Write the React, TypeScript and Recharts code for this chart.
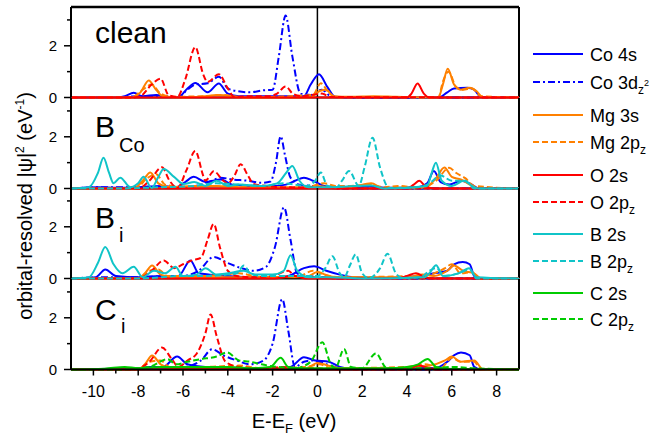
import React from "react";
import { LineChart, Line, XAxis, YAxis, ReferenceLine } from "recharts";

type Pt = [number, number];

// x ticks (eV) and y ticks (per panel)
const xTicks = [-10, -9, -8, -7, -6, -5, -4, -3, -2, -1, 0, 1, 2, 3, 4, 5, 6, 7, 8];
const yTicks = [0, 1, 2, 3];

// ---- clean ----
const cleanCo4s: Pt[] = [[-11, 0], [-9, 0], [-8.6, 0.05], [-8.2, 0.18], [-7.8, 0.05], [-7.2, 0.1], [-6.6, 0.02], [-6.2, 0.02], [-5.8, 0.35], [-5.45, 0.56], [-4.9, 0.2], [-4.4, 0.54], [-4.0, 0.15], [-3.5, 0.05], [-2.5, 0.05], [-1.5, 0.05], [-0.6, 0.05], [-0.3, 0.5], [0.07, 0.9], [0.45, 0.4], [0.8, 0.02], [2, 0], [5.4, 0], [5.8, 0.2], [6.1, 0.35], [6.7, 0.38], [7.0, 0.3], [7.3, 0.02], [9, 0]];
const cleanCo3d: Pt[] = [[-11, 0], [-9, 0], [-8, 0.05], [-7, 0.05], [-6.2, 0.02], [-5.8, 0.3], [-5.45, 0.5], [-4.9, 0.55], [-4.4, 0.8], [-4.0, 0.35], [-3.6, 0.25], [-3.0, 0.2], [-2.4, 0.28], [-2.0, 0.3], [-1.72, 1.6], [-1.42, 3.17], [-1.12, 1.6], [-0.75, 0.15], [-0.3, 0.1], [0.2, 0.3], [0.6, 0.05], [1.5, 0], [9, 0]];
const cleanMg3s: Pt[] = [[-11, 0], [-8.3, 0], [-7.9, 0.2], [-7.53, 0.66], [-7.2, 0.3], [-6.9, 0.05], [-6, 0], [-5, 0.05], [-4.5, 0.1], [-3, 0], [-0.3, 0], [0.1, 0.25], [0.4, 0.3], [0.7, 0.05], [1.5, 0.03], [2.5, 0.05], [3.5, 0.03], [5.4, 0], [5.6, 0.5], [5.82, 1.11], [6.1, 0.5], [6.4, 0.3], [6.8, 0.38], [7.1, 0.25], [7.4, 0], [9, 0]];
const cleanMg2p: Pt[] = [[-11, 0], [-8.3, 0], [-7.8, 0.3], [-7.4, 0.5], [-7, 0.15], [-6.5, 0.03], [-5, 0.05], [-4.2, 0.1], [-3.5, 0], [-0.2, 0.1], [0.15, 0.55], [0.5, 0.2], [0.9, 0], [5.4, 0], [5.6, 0.6], [5.85, 1.0], [6.2, 0.4], [6.5, 0.3], [6.9, 0.35], [7.3, 0.05], [9, 0]];
const cleanO2s: Pt[] = [[-11, 0], [4.0, 0], [4.2, 0.15], [4.47, 0.54], [4.75, 0.15], [5.0, 0], [9, 0]];
const cleanO2p: Pt[] = [[-11, 0], [-8.2, 0], [-7.9, 0.05], [-7.4, 0.5], [-7.0, 0.73], [-6.65, 0.1], [-6.25, 0.02], [-5.9, 0.7], [-5.45, 1.95], [-5.1, 0.9], [-4.9, 0.6], [-4.4, 0.9], [-4.0, 0.35], [-3.7, 0.02], [-3, 0.05], [-2.2, 0.05], [-1.8, 0.15], [-1.42, 0.43], [-1.1, 0.15], [-0.7, 0.05], [0.2, 0.15], [0.6, 0.02], [9, 0]];

// ---- B_Co ----
const bcoCo4s: Pt[] = [[-11, 0], [-9.8, 0.05], [-9, 0.03], [-8, 0.05], [-7, 0.1], [-6.3, 0.05], [-5.9, 0.25], [-5.52, 0.45], [-5.0, 0.25], [-4.3, 0.35], [-3.8, 0.15], [-3, 0.1], [-2, 0.1], [-1.4, 0.15], [-1.0, 0.3], [-0.6, 0.42], [-0.2, 0.3], [0.3, 0.1], [1, 0.05], [2.4, 0.1], [3, 0.03], [4.5, 0.05], [4.9, 0.2], [5.2, 0.68], [5.5, 0.25], [5.9, 0.15], [6.4, 0.3], [6.9, 0.15], [7.2, 0], [9, 0]];
const bcoCo3d: Pt[] = [[-11, 0], [-9.5, 0.05], [-8, 0.05], [-7, 0.05], [-6, 0.05], [-5.2, 0.15], [-4.7, 0.3], [-4.33, 0.42], [-3.8, 0.35], [-3.1, 0.3], [-2.5, 0.22], [-2.09, 0.27], [-1.85, 1.0], [-1.64, 2.02], [-1.45, 1.3], [-1.2, 0.42], [-0.8, 0.15], [-0.3, 0.1], [0.3, 0.05], [1, 0], [9, 0]];
const bcoMg3s: Pt[] = [[-11, 0], [-8.2, 0], [-7.8, 0.3], [-7.46, 0.62], [-7.1, 0.2], [-6.6, 0.05], [-5.5, 0.1], [-4.5, 0.1], [-3.5, 0.05], [-0.5, 0.02], [0, 0.1], [0.5, 0.05], [1.5, 0.05], [2.4, 0.2], [2.9, 0.02], [4.8, 0.05], [5.3, 0.4], [5.67, 0.81], [6.0, 0.45], [6.4, 0.35], [6.8, 0.15], [7.2, 0], [9, 0]];
const bcoMg2p: Pt[] = [[-11, 0], [-8.1, 0], [-7.6, 0.4], [-7.2, 0.55], [-6.8, 0.15], [-6, 0.05], [-4.8, 0.1], [-3.5, 0.05], [-0.5, 0.05], [0.3, 0.2], [0.8, 0.1], [1.5, 0.1], [2.3, 0.15], [3, 0.05], [3.6, 0.1], [4.5, 0.02], [5.3, 0.3], [5.88, 0.8], [6.2, 0.6], [6.6, 0.4], [7.0, 0.1], [9, 0]];
const bcoO2s: Pt[] = [[-11, 0], [4.0, 0], [4.3, 0.15], [4.55, 0.3], [4.8, 0.1], [5.2, 0], [9, 0]];
const bcoO2p: Pt[] = [[-11, 0], [-8, 0], [-7.5, 0.3], [-6.94, 0.82], [-6.6, 0.3], [-6.25, 0.02], [-5.85, 0.7], [-5.45, 1.45], [-5.1, 0.5], [-5.0, 0.3], [-4.63, 0.67], [-4.2, 0.3], [-4.0, 0.2], [-3.7, 0.5], [-3.43, 0.94], [-3.1, 0.5], [-2.85, 0.18], [-2.3, 0.1], [-1.7, 0.05], [-1.0, 0.05], [0, 0.05], [1, 0], [9, 0]];
const bcoB2s: Pt[] = [[-11, 0], [-10.2, 0.05], [-9.8, 0.6], [-9.55, 1.19], [-9.3, 0.6], [-9.1, 0.2], [-8.8, 0.42], [-8.35, 0.05], [-8.0, 0.2], [-7.76, 0.45], [-7.4, 0.02], [-7.1, 0.45], [-6.86, 0.75], [-6.4, 0.45], [-5.97, 0.17], [-5.5, 0.25], [-5.0, 0.1], [-4.5, 0.3], [-4, 0.1], [-3.5, 0.15], [-2.5, 0.1], [-1.8, 0.2], [-1.4, 0.6], [-1.12, 0.87], [-0.8, 0.3], [-0.4, 0.05], [0.5, 0.05], [2.4, 0.12], [3, 0], [4.9, 0.1], [5.1, 0.6], [5.29, 1.0], [5.55, 0.3], [6, 0.1], [6.55, 0.3], [6.9, 0.1], [7.2, 0], [9, 0]];
const bcoB2p: Pt[] = [[-11, 0], [-9, 0], [-7, 0.05], [-5.5, 0.1], [-4.5, 0.2], [-3.5, 0.15], [-2.5, 0.1], [-1.5, 0.2], [-0.5, 0.1], [-0.1, 0.3], [0.15, 0.62], [0.45, 0.1], [0.85, 0.05], [1.1, 0.3], [1.41, 0.68], [1.85, 0.1], [2.1, 0.8], [2.46, 1.96], [2.8, 0.8], [3.2, 0.02], [4.5, 0.05], [5.0, 0.2], [5.5, 0.5], [6.0, 0.3], [6.6, 0.3], [7.0, 0], [9, 0]];

// ---- B_i ----
const biCo4s: Pt[] = [[-11, 0], [-9.9, 0.05], [-9.47, 0.35], [-9.0, 0.1], [-8, 0.05], [-7, 0.1], [-6.2, 0.1], [-5.67, 0.7], [-5.3, 0.2], [-4.8, 0.15], [-4, 0.1], [-3, 0.05], [-2, 0.05], [-1.3, 0.1], [-0.6, 0.4], [-0.15, 0.47], [0.4, 0.3], [1.0, 0.15], [1.6, 0.05], [3, 0.02], [4.5, 0.1], [5.2, 0.2], [5.8, 0.3], [6.1, 0.55], [6.49, 0.64], [6.8, 0.55], [7.0, 0.1], [7.3, 0], [9, 0]];
const biCo3d: Pt[] = [[-11, 0], [-9.5, 0.05], [-8, 0.05], [-7, 0.08], [-6, 0.1], [-5.3, 0.3], [-4.63, 0.83], [-4.0, 0.6], [-3.4, 0.4], [-2.85, 0.3], [-2.3, 0.45], [-1.9, 1.2], [-1.49, 2.75], [-1.2, 1.5], [-0.9, 0.2], [-0.5, 0.1], [0.3, 0.05], [1, 0], [9, 0]];
const biMg3s: Pt[] = [[-11, 0], [-8, 0], [-7.7, 0.2], [-7.38, 0.5], [-7.0, 0.15], [-6.4, 0.05], [-5, 0.05], [-3, 0.05], [-0.5, 0.05], [0, 0.25], [0.5, 0.1], [1, 0.05], [4, 0.05], [4.7, 0.15], [5.2, 0.1], [5.8, 0.3], [6.1, 0.5], [6.5, 0.3], [7.0, 0.2], [7.3, 0], [9, 0]];
const biMg2p: Pt[] = [[-11, 0], [-8, 0], [-7.5, 0.3], [-7.1, 0.35], [-6.7, 0.1], [-5, 0.1], [-3.5, 0.2], [-2.5, 0.05], [-0.8, 0.1], [-0.2, 0.3], [0.3, 0.15], [1, 0.05], [4.3, 0.1], [5.0, 0.15], [5.7, 0.4], [6.0, 0.55], [6.4, 0.2], [6.9, 0.25], [7.2, 0], [9, 0]];
const biO2s: Pt[] = [[-11, 0], [-2, 0], [-1.0, 0.1], [-0.5, 0], [3.5, 0], [4.0, 0.1], [4.4, 0.2], [4.8, 0.05], [5.2, 0], [9, 0]];
const biO2p: Pt[] = [[-11, 0], [-8, 0], [-7.4, 0.3], [-6.86, 0.7], [-6.4, 0.4], [-6.0, 0.55], [-5.6, 0.7], [-5.2, 0.8], [-4.9, 1.5], [-4.63, 2.11], [-4.35, 1.2], [-4.0, 0.3], [-3.6, 0.1], [-3, 0.05], [-2, 0.1], [-1.3, 0.3], [-1.0, 0.1], [0, 0.05], [1, 0], [9, 0]];
const biB2s: Pt[] = [[-11, 0], [-10.2, 0.05], [-9.8, 0.6], [-9.47, 1.22], [-9.1, 0.55], [-8.7, 0.2], [-8.2, 0.45], [-7.8, 0.05], [-7.3, 0.3], [-6.8, 0.2], [-6.34, 0.45], [-6.0, 0.1], [-5.4, 0.15], [-5, 0.4], [-4.5, 0.15], [-4, 0.2], [-3.28, 0.3], [-2.8, 0.15], [-2, 0.15], [-1.5, 0.3], [-1.2, 0.9], [-0.9, 0.3], [-0.4, 0.05], [0.5, 0.05], [2, 0], [4.8, 0.05], [5.0, 0.2], [5.3, 0.51], [5.6, 0.1], [6.3, 0.2], [6.77, 0.4], [7.1, 0.05], [9, 0]];
const biB2p: Pt[] = [[-11, 0], [-8, 0], [-6, 0.1], [-5, 0.1], [-4, 0.15], [-3.6, 0.2], [-3.28, 0.5], [-3.0, 0.2], [-2.5, 0.1], [-1.5, 0.1], [-0.5, 0.1], [0, 0.1], [0.35, 0.4], [0.67, 0.86], [1.0, 0.2], [1.2, 0.05], [1.45, 0.5], [1.71, 0.93], [2.0, 0.2], [2.3, 0.02], [2.8, 0.4], [3.13, 0.96], [3.5, 0.2], [3.8, 0.02], [4.6, 0.05], [5.0, 0.3], [5.3, 0.4], [5.7, 0.1], [6.3, 0.2], [6.8, 0.35], [7.1, 0], [9, 0]];

// ---- C_i ----
const ciCo4s: Pt[] = [[-11, 0], [-9, 0.03], [-8, 0.05], [-7.5, 0.1], [-6.9, 0.1], [-6.26, 0.5], [-5.8, 0.2], [-5, 0.1], [-4, 0.08], [-3, 0.05], [-1.8, 0.05], [-1.2, 0.1], [-0.6, 0.47], [-0.1, 0.35], [0.5, 0.3], [1.0, 0.1], [1.5, 0.03], [4, 0.05], [4.5, 0.1], [5.2, 0.05], [5.8, 0.3], [6.1, 0.55], [6.41, 0.66], [6.8, 0.55], [7.0, 0.1], [7.3, 0], [9, 0]];
const ciCo3d: Pt[] = [[-11, 0], [-9, 0.03], [-8, 0.05], [-7, 0.1], [-6, 0.1], [-5.2, 0.35], [-4.7, 0.78], [-4.2, 0.55], [-3.6, 0.35], [-3.0, 0.2], [-2.4, 0.35], [-2.0, 1.0], [-1.57, 2.72], [-1.3, 1.5], [-1.0, 0.1], [-0.6, 0.3], [-0.2, 0.35], [0.4, 0.2], [1.0, 0.05], [2, 0], [9, 0]];
const ciMg3s: Pt[] = [[-11, 0], [-8, 0], [-7.7, 0.2], [-7.38, 0.54], [-7.0, 0.2], [-6.5, 0.05], [-5, 0.05], [-3, 0.05], [-0.5, 0.05], [0, 0.25], [0.5, 0.15], [1, 0.05], [3.5, 0.05], [4.3, 0.1], [5.0, 0.15], [5.7, 0.35], [6.0, 0.5], [6.4, 0.3], [7.0, 0.35], [7.4, 0], [9, 0]];
const ciMg2p: Pt[] = [[-11, 0], [-8, 0], [-7.5, 0.3], [-7.0, 0.35], [-6.6, 0.1], [-5, 0.1], [-3.5, 0.15], [-2.5, 0.05], [-0.5, 0.1], [0.1, 0.2], [0.6, 0.05], [4, 0.1], [4.8, 0.2], [5.5, 0.05], [6.0, 0.45], [6.4, 0.3], [7.0, 0.3], [7.3, 0], [9, 0]];
const ciO2s: Pt[] = [[-11, 0], [4, 0], [4.5, 0.15], [5, 0.05], [5.4, 0], [9, 0]];
const ciO2p: Pt[] = [[-11, 0], [-8.2, 0], [-7.5, 0.3], [-6.94, 0.85], [-6.5, 0.4], [-6.2, 0.1], [-5.8, 0.35], [-5.4, 0.6], [-5.0, 1.4], [-4.77, 2.13], [-4.5, 1.3], [-4.1, 0.3], [-3.5, 0.1], [-2.5, 0.05], [-1.5, 0.1], [-1.0, 0.05], [0, 0.05], [1, 0], [9, 0]];
const ciC2s: Pt[] = [[-11, 0], [-9.5, 0.03], [-8.6, 0.1], [-8, 0.05], [-7, 0.1], [-6, 0.1], [-5, 0.1], [-4, 0.1], [-3, 0.05], [-2.1, 0.1], [-1.64, 0.45], [-1.3, 0.1], [-0.7, 0.05], [0, 0.05], [1, 0.05], [2, 0.05], [3, 0.05], [4.0, 0.1], [4.5, 0.2], [4.92, 0.41], [5.3, 0.1], [6, 0.02], [9, 0]];
const ciC2p: Pt[] = [[-11, 0], [-9, 0], [-7.5, 0.1], [-6.7, 0.4], [-6.3, 0.2], [-5.8, 0.3], [-5.2, 0.4], [-4.5, 0.5], [-4.03, 0.66], [-3.5, 0.35], [-3, 0.3], [-2.5, 0.2], [-1.8, 0.1], [-1, 0.05], [-0.3, 0.3], [0.22, 1.05], [0.6, 0.2], [0.8, 0.05], [1.19, 0.79], [1.5, 0.1], [2.0, 0.05], [2.61, 0.62], [3.1, 0.05], [3.6, 0.05], [5, 0.05], [6, 0.1], [7, 0.05], [9, 0]];

const BLUE = "#0000FF";
const ORANGE = "#FF8000";
const RED = "#FF0000";
const CYAN = "#10C4C8";
const GREEN = "#00CC00";
const DASH = "6 3";
const DASHDOT = "7 3 2 3";

const styles: Record<string, { color: string; dash?: string }> = {
  co4s: { color: BLUE },
  co3d: { color: BLUE, dash: DASHDOT },
  mg3s: { color: ORANGE },
  mg2p: { color: ORANGE, dash: DASH },
  o2s: { color: RED },
  o2p: { color: RED, dash: DASH },
  b2s: { color: CYAN },
  b2p: { color: CYAN, dash: DASH },
  c2s: { color: GREEN },
  c2p: { color: GREEN, dash: DASH },
};

type Series = { key: string; pts: Pt[] };

const panels: { name: string; series: Series[] }[] = [
  {
    name: "clean",
    series: [
      { key: "co4s", pts: cleanCo4s }, { key: "co3d", pts: cleanCo3d },
      { key: "mg3s", pts: cleanMg3s }, { key: "mg2p", pts: cleanMg2p },
      { key: "o2p", pts: cleanO2p }, { key: "o2s", pts: cleanO2s },
    ],
  },
  {
    name: "bco",
    series: [
      { key: "co4s", pts: bcoCo4s }, { key: "co3d", pts: bcoCo3d },
      { key: "mg3s", pts: bcoMg3s }, { key: "mg2p", pts: bcoMg2p },
      { key: "o2p", pts: bcoO2p }, { key: "o2s", pts: bcoO2s },
      { key: "b2p", pts: bcoB2p }, { key: "b2s", pts: bcoB2s },
    ],
  },
  {
    name: "bi",
    series: [
      { key: "co4s", pts: biCo4s }, { key: "co3d", pts: biCo3d },
      { key: "mg3s", pts: biMg3s }, { key: "mg2p", pts: biMg2p },
      { key: "o2p", pts: biO2p }, { key: "o2s", pts: biO2s },
      { key: "b2p", pts: biB2p }, { key: "b2s", pts: biB2s },
    ],
  },
  {
    name: "ci",
    series: [
      { key: "co4s", pts: ciCo4s }, { key: "co3d", pts: ciCo3d },
      { key: "mg3s", pts: ciMg3s }, { key: "mg2p", pts: ciMg2p },
      { key: "o2p", pts: ciO2p }, { key: "o2s", pts: ciO2s },
      { key: "c2p", pts: ciC2p }, { key: "c2s", pts: ciC2s },
    ],
  },
];

const legendItems = [
  { key: "co4s", label: "Co 4s", sub: "", sup: "" },
  { key: "co3d", label: "Co 3d", sub: "z", sup: "2" },
  { key: "mg3s", label: "Mg 3s", sub: "", sup: "" },
  { key: "mg2p", label: "Mg 2p", sub: "z", sup: "" },
  { key: "o2s", label: "O 2s", sub: "", sup: "" },
  { key: "o2p", label: "O 2p", sub: "z", sup: "" },
  { key: "b2s", label: "B 2s", sub: "", sup: "" },
  { key: "b2p", label: "B 2p", sub: "z", sup: "" },
  { key: "c2s", label: "C 2s", sub: "", sup: "" },
  { key: "c2p", label: "C 2p", sub: "z", sup: "" },
];
const legendY = [54, 82, 115, 142, 175, 202, 234, 261, 293, 319];

const FONT = "Arial, 'Liberation Sans', Helvetica, sans-serif";
const PANEL_TOP = 7;
const PANEL_H = 90.5;
const PAD = 10;

const YTick = (props: any) => {
  const { x, y, payload } = props;
  const major = payload.value % 2 === 0;
  return (
    <g>
      <line x1={x - (major ? 7 : 4)} x2={x} y1={y} y2={y} stroke="#000" strokeWidth={1.5} />
      {major && (
        <text x={x - 14} y={y + 5.5} textAnchor="end" fontSize={15} fontFamily={FONT} fill="#000">
          {payload.value}
        </text>
      )}
    </g>
  );
};

const XTick = (props: any) => {
  const { x, y, payload } = props;
  const major = payload.value % 2 === 0;
  return (
    <g>
      <line x1={x} x2={x} y1={y} y2={y + (major ? 6 : 4)} stroke="#000" strokeWidth={1.5} />
      {major && (
        <text x={x} y={y + 27} textAnchor="middle" fontSize={16} fontFamily={FONT} fill="#000">
          {payload.value}
        </text>
      )}
    </g>
  );
};

function Panel({ series, index, last }: { series: Series[]; index: number; last: boolean }) {
  const top = PANEL_TOP + index * PANEL_H - PAD;
  const height = PANEL_H + 2 * PAD + (last ? 30 : 0);
  return (
    <div style={{ position: "absolute", left: 0, top }}>
      <LineChart width={530} height={height} margin={{ top: PAD, right: 11, bottom: PAD, left: 0 }}>
        <XAxis
          type="number"
          dataKey="x"
          domain={[-11, 9]}
          ticks={xTicks}
          hide={!last}
          height={30}
          tickSize={0}
          tickMargin={0}
          tickLine={false}
          tick={<XTick />}
          axisLine={{ stroke: "#000", strokeWidth: 2 }}
          interval={0}
        />
        <YAxis
          type="number"
          domain={[0, 3.5]}
          ticks={yTicks}
          width={71}
          tickSize={0}
          tickMargin={0}
          tickLine={false}
          tick={<YTick />}
          axisLine={{ stroke: "#000", strokeWidth: 2 }}
          interval={0}
        />
        <ReferenceLine y={0} stroke="#000" strokeWidth={2} />
        {index === 0 && <ReferenceLine y={3.5} stroke="#000" strokeWidth={2.5} />}
        <ReferenceLine x={0} stroke="#000" strokeWidth={1.5} />
        <ReferenceLine x={9} stroke="#000" strokeWidth={2} />
        {series.map((s) => (
          <Line
            key={s.key}
            data={s.pts.map(([x, y]) => ({ x, y }))}
            dataKey="y"
            type="monotone"
            stroke={styles[s.key].color}
            strokeDasharray={styles[s.key].dash}
            strokeWidth={2}
            dot={false}
            activeDot={false}
            isAnimationActive={false}
          />
        ))}
      </LineChart>
    </div>
  );
}

export default function App() {
  return (
    <div style={{ position: "absolute", left: 0, top: 0, width: 658, height: 441, background: "#fff", fontFamily: FONT }}>
      {panels.map((p, i) => (
        <Panel key={p.name} series={p.series} index={i} last={i === panels.length - 1} />
      ))}
      <svg width={658} height={441} style={{ position: "absolute", left: 0, top: 0, pointerEvents: "none" }} fontFamily={FONT}>
        {/* panel labels */}
        <text x={95} y={43} fontSize={30}>clean</text>
        <text x={95} y={137} fontSize={30}>B</text>
        <text x={119} y={152} fontSize={20}>Co</text>
        <text x={95} y={228} fontSize={30}>B</text>
        <text x={119} y={242} fontSize={20}>i</text>
        <text x={95} y={320} fontSize={30}>C</text>
        <text x={121} y={333} fontSize={20}>i</text>

        {/* axis titles */}
        <text transform="translate(32,206) rotate(-90)" textAnchor="middle" fontSize={20}>
          orbital-resolved |ψ|<tspan dy={-8} fontSize={12}>2</tspan>
          <tspan dy={8}> (eV</tspan>
          <tspan dy={-8} fontSize={12}>-1</tspan>
          <tspan dy={8}>)</tspan>
        </text>
        <text x={294} y={428} textAnchor="middle" fontSize={20}>
          E-E<tspan dy={5} fontSize={13}>F</tspan>
          <tspan dy={-5}> (eV)</tspan>
        </text>

        {/* legend */}
        {legendItems.map((it, i) => (
          <g key={it.key}>
            <line
              x1={533}
              x2={583}
              y1={legendY[i]}
              y2={legendY[i]}
              stroke={styles[it.key].color}
              strokeWidth={2}
              strokeDasharray={styles[it.key].dash}
            />
            <text x={590} y={legendY[i] + 6.5} fontSize={18}>
              {it.label}
              {it.sub && <tspan dy={5} fontSize={12}>{it.sub}</tspan>}
              {it.sup && <tspan dy={-8} fontSize={9}>{it.sup}</tspan>}
            </text>
          </g>
        ))}
      </svg>
    </div>
  );
}
